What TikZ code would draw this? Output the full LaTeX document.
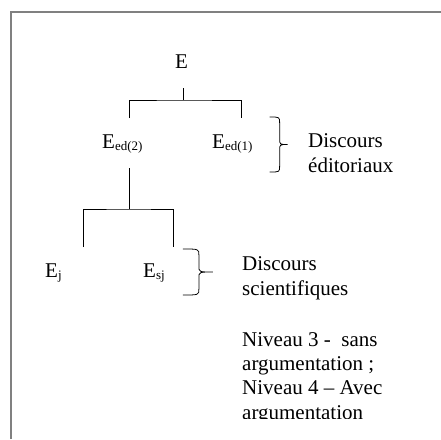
\documentclass[tikz,border=0pt]{standalone}
\usepackage{fontspec}
\setmainfont{Liberation Serif}
\newcommand\lowsub[1]{\raisebox{-2pt}{\fontsize{13}{13}\selectfont #1}}

\begin{document}
\begin{tikzpicture}[x=1pt,y=1pt,font=\fontsize{21}{24.3}\selectfont,
    term/.style={anchor=base west,inner sep=0pt,text height=14pt,text depth=4pt,outer ysep=16pt},
    note/.style={anchor=base west,inner sep=0pt,align=left},
    tree/.style={line width=0.8pt},
    % brace pointing right: spine offset, tip offset, height
    pics/curly/.style n args={3}{code={
      \draw[line width=0.8pt] (0,0) .. controls (#1,0) .. (#1,-6) -- (#1,-#3/2+6)
        .. controls (#1,-#3/2) .. (#2,-#3/2) .. controls (#1,-#3/2) .. (#1,-#3/2-6)
        -- (#1,-#3+6) .. controls (#1,-#3) .. (0,-#3);}}]
      \useasboundingbox (0,0) rectangle (441,-439);
      \draw[gray,line width=1.3pt] (11,-439) -- (11,-12) -- (441,-12);
      \node[term] (e) at (175,-68) {E};
      \node[term] (ed2) at (102,-148) {E\lowsub{ed(2)}};
      \node[term] (ed1) at (212,-148) {E\lowsub{ed(1)}};
      \node[term] (ej) at (45,-277) {E\lowsub{j}};
      \node[term] (esj) at (143,-277) {E\lowsub{sj}};
      \node[note] (edit) at (308,-172) {Discours\\éditoriaux};
      \node[note] (scien) at (242,-295) {Discours\\scientifiques};
      \begin{scope}
        \clip (0,-418) rectangle (441,0);
        \node[note] (levels) at (242,-419) {Niveau 3 -\ \ sans\\argumentation ;\\Niveau 4 -- Avec\\argumentation};
      \end{scope}
      \draw[tree] ([xshift=1.5pt]e.south) -- ++(0,-12) coordinate (f1);
      \draw[tree] ([xshift=27pt]ed2.north west) |- (f1) -| ([xshift=29pt]ed1.north west);
      \draw[tree] ([xshift=27pt]ed2.south west) -- ++(0,-41) coordinate (f2);
      \draw[tree] ([xshift=38pt]ej.north west) |- (f2) -| ([xshift=30pt]esj.north west);
      \pic (br1) at ([xshift=17pt,yshift=1pt]ed1.north east) {curly={10}{18}{55}};
      \pic (br2) at ([xshift=18pt,yshift=-2pt]esj.north east) {curly={16}{30}{46}};
    \end{tikzpicture}
\end{document}
